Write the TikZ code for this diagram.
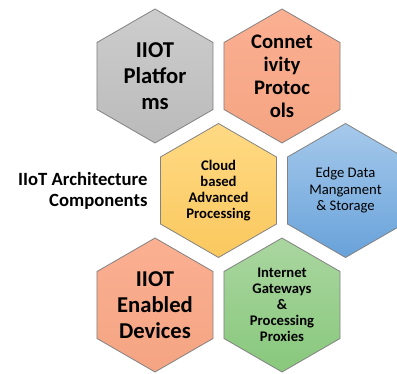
\documentclass[tikz,border=0pt]{standalone}
\usepackage{fontspec}
\setmainfont{Carlito}
\usepackage{tikz}
\usetikzlibrary{shapes.geometric}
\tikzset{every picture/.style={line width=0.75pt}}

\definecolor{grayTop}{RGB}{205,205,205}
\definecolor{grayBot}{RGB}{186,186,186}
\definecolor{salmonTop}{RGB}{251,176,146}
\definecolor{salmonBot}{RGB}{244,164,130}
\definecolor{goldTop}{RGB}{255,218,132}
\definecolor{goldBot}{RGB}{250,200,94}
\definecolor{skyTop}{RGB}{166,201,235}
\definecolor{skyBot}{RGB}{104,162,218}
\definecolor{leafTop}{RGB}{170,214,160}
\definecolor{leafBot}{RGB}{136,200,124}
\definecolor{rimGray}{RGB}{130,130,130}

\tikzset{
  hexa/.style={regular polygon, regular polygon sides=6, regular polygon rotate=30,
    minimum size=100.5pt, inner sep=0pt, draw=rimGray, line width=0.6pt},
  bigtxt/.style={align=center, font=\fontsize{17}{19.5}\selectfont\bfseries},
  midtxt/.style={align=center, font=\fontsize{15.5}{17.3}\selectfont\bfseries},
  smalltxt/.style={align=center, font=\fontsize{11}{12}\selectfont\bfseries},
  plaintxt/.style={align=center, font=\fontsize{11}{12.4}\selectfont}
}

\begin{document}
\begin{tikzpicture}[x=0.75pt,y=0.75pt,yscale=-1,xscale=1]
		\useasboundingbox (0,0) rectangle (397,374);
		\clip (0,0) rectangle (397,374);
		
		%Shape: Hexagon [id:platforms] 
		\node [hexa, top color=grayTop, bottom color=grayBot] (plat) at (155,76) {};
		%Shape: Hexagon [id:protocols] 
		\node [hexa, top color=salmonTop, bottom color=salmonBot] (proto) at (282,76) {};
		%Shape: Hexagon [id:cloud] 
		\node [hexa, top color=goldTop, bottom color=goldBot] (cloud) at (218.5,190.5) {};
		%Shape: Hexagon [id:edge] 
		\node [hexa, top color=skyTop, bottom color=skyBot] (edge) at (345.5,190.5) {};
		%Shape: Hexagon [id:devices] 
		\node [hexa, top color=salmonTop, bottom color=salmonBot] (devices) at (155,305) {};
		%Shape: Hexagon [id:gateways] 
		\node [hexa, top color=leafTop, bottom color=leafBot] (gate) at (282,305) {};
		
		% Text Node
		\node [bigtxt] (platT) at (plat) {IIOT\\Platfor\\ms};
		% Text Node
		\node [midtxt] (protoT) at (proto) {Connet\\ivity\\Protoc\\ols};
		% Text Node
		\node [smalltxt] (cloudT) at (cloud) {Cloud\\based\\Advanced\\Processing};
		% Text Node
		\node [plaintxt] (edgeT) at (edge) {Edge Data\\Mangament\\\& Storage};
		% Text Node
		\node [bigtxt] (devT) at (devices) {IIOT\\Enabled\\Devices};
		% Text Node
		\node [smalltxt] (gateT) at (gate) {Internet\\Gateways\\\&\\Processing\\Proxies};
		% Text Node
		\node [align=right, anchor=east, inner sep=0pt, font=\fontsize{14}{15.5}\selectfont\bfseries] (title) at (148,191) {IIoT Architecture\\Components};
		
\end{tikzpicture}
\end{document}
